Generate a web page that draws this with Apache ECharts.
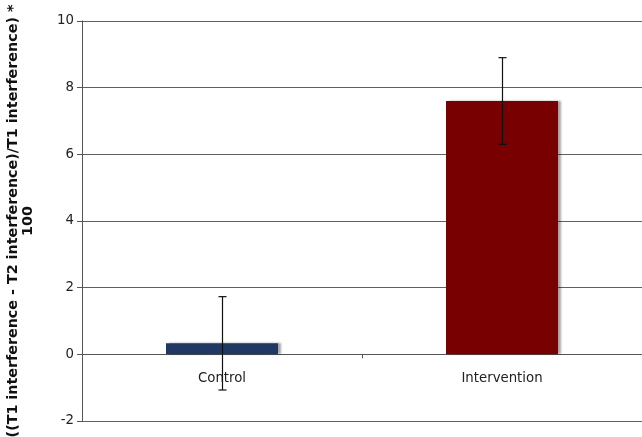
<!DOCTYPE html>
<html><head><meta charset="utf-8">
<script src="https://cdn.jsdelivr.net/npm/echarts@6/dist/echarts.min.js"></script>
<style>html,body{margin:0;padding:0;background:#fff}#c{width:642px;height:437px}</style>
</head><body><div id="c"></div>
<script>
const categories = ['Control', 'Intervention'];
const means = [0.33, 7.6];
const errors = [1.4, 1.3];
const barColors = ['#1f3864', '#780000'];
const yTicks = [-2, 0, 2, 4, 6, 8, 10];

const chart = echarts.init(document.getElementById('c'), null, {renderer: 'canvas'});
const font = 'DejaVu Sans, Verdana, sans-serif';
chart.setOption({
  animation: false,
  grid: {left: 82, right: 0, top: 21, bottom: 16, containLabel: false, outerBoundsMode: 'none'},
  xAxis: {
    type: 'category', data: categories,
    axisLine: {onZero: true, lineStyle: {color: '#555', width: 1}},
    axisTick: {show: true, length: 4, interval: 0, lineStyle: {color: '#555'}},
    axisLabel: {color: '#222', fontFamily: font, fontSize: 13.3, margin: -49},
    splitLine: {show: false}
  },
  yAxis: {
    type: 'value', min: yTicks[0], max: yTicks[yTicks.length - 1], interval: 2,
    name: '((T1 interference - T2 interference)/T1 interference) *\n100',
    nameLocation: 'middle', nameGap: 46,
    nameTextStyle: {fontFamily: font, fontSize: 14.3, fontWeight: 'bold', color: '#111', lineHeight: 15, align: 'center'},
    axisLine: {show: true, lineStyle: {color: '#555', width: 1}},
    axisTick: {show: true, length: 5, lineStyle: {color: '#555'}},
    axisLabel: {color: '#222', fontFamily: font, fontSize: 13.3, margin: 8},
    splitLine: {show: true, lineStyle: {color: '#606060', width: 1.2}}
  },
  series: [
    {
      type: 'bar', barWidth: '40%',
      data: means.map((v, i) => ({value: v, itemStyle: {color: barColors[i]}})),
      itemStyle: {shadowColor: 'rgba(0,0,0,0.35)', shadowOffsetX: 3, shadowOffsetY: 0, shadowBlur: 2}
    },
    {
      type: 'custom', z: 10,
      data: means.map((m, i) => [i, m - errors[i], m + errors[i]]),
      renderItem: function (params, api) {
        const lo = api.coord([api.value(0), api.value(1)]);
        const hi = api.coord([api.value(0), api.value(2)]);
        const x = Math.round(lo[0]) + 0.5;
        const cap = 4;
        const style = {stroke: '#111', lineWidth: 1.2};
        return {type: 'group', children: [
          {type: 'line', shape: {x1: x, y1: hi[1], x2: x, y2: lo[1]}, style: style},
          {type: 'line', shape: {x1: x - cap, y1: hi[1], x2: x + cap, y2: hi[1]}, style: style},
          {type: 'line', shape: {x1: x - cap, y1: lo[1], x2: x + cap, y2: lo[1]}, style: style}
        ]};
      }
    }
  ]
});
</script></body></html>
